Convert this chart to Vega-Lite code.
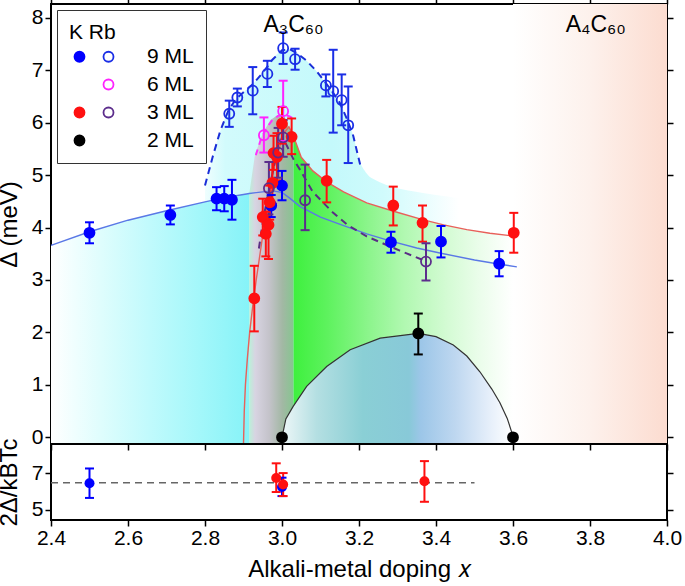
{
  "$schema": "https://vega.github.io/schema/vega-lite/v6.json",
  "padding": {"left": -4, "top": -4, "right": 16, "bottom": 0},
  "autosize": {"type": "pad"},
  "spacing": 0,
  "bounds": "flush",
  "resolve": {"scale": {"color": "independent", "fill": "independent", "stroke": "independent"}, "legend": {"color": "independent", "fill": "independent", "stroke": "independent"}},
  "datasets": {
    "salmon": [{"x": 3.6, "x2": 4.0}],
    "env": [
      {"x": 2.80, "y": 4.80}, {"x": 2.82, "y": 5.35}, {"x": 2.84, "y": 5.85}, {"x": 2.86, "y": 6.22}, {"x": 2.88, "y": 6.45},
      {"x": 2.90, "y": 6.58}, {"x": 2.925, "y": 6.74}, {"x": 2.95, "y": 6.95}, {"x": 2.975, "y": 7.2}, {"x": 3.0, "y": 7.38},
      {"x": 3.02, "y": 7.40}, {"x": 3.04, "y": 7.32}, {"x": 3.064, "y": 7.18}, {"x": 3.09, "y": 6.98}, {"x": 3.107, "y": 6.82},
      {"x": 3.13, "y": 6.6}, {"x": 3.15, "y": 6.38}, {"x": 3.17, "y": 6.05}, {"x": 3.185, "y": 5.75}, {"x": 3.2, "y": 5.3},
      {"x": 3.22, "y": 5.03}, {"x": 3.25, "y": 4.88}, {"x": 3.29, "y": 4.77}, {"x": 3.34, "y": 4.69}, {"x": 3.40, "y": 4.62}, {"x": 3.46, "y": 4.56}
    ],
    "rbDome": [
      {"x": 2.80, "y": 4.80}, {"x": 2.82, "y": 5.35}, {"x": 2.84, "y": 5.85}, {"x": 2.86, "y": 6.22}, {"x": 2.88, "y": 6.45},
      {"x": 2.90, "y": 6.58}, {"x": 2.925, "y": 6.74}, {"x": 2.95, "y": 6.95}, {"x": 2.975, "y": 7.2}, {"x": 3.0, "y": 7.38},
      {"x": 3.02, "y": 7.40}, {"x": 3.04, "y": 7.32}, {"x": 3.064, "y": 7.18}, {"x": 3.09, "y": 6.98}, {"x": 3.107, "y": 6.82},
      {"x": 3.13, "y": 6.6}, {"x": 3.15, "y": 6.38}, {"x": 3.17, "y": 6.05}, {"x": 3.185, "y": 5.75}, {"x": 3.203, "y": 5.2}
    ],
    "blueFit": [
      {"x": 2.4, "y": 3.66}, {"x": 2.5, "y": 3.92}, {"x": 2.6, "y": 4.14}, {"x": 2.7, "y": 4.32}, {"x": 2.8, "y": 4.49},
      {"x": 2.85, "y": 4.57}, {"x": 2.9, "y": 4.63}, {"x": 2.915, "y": 4.65}, {"x": 2.95, "y": 4.68}, {"x": 2.975, "y": 4.70},
      {"x": 3.0, "y": 4.67}, {"x": 3.02, "y": 4.56}, {"x": 3.047, "y": 4.40}, {"x": 3.1, "y": 4.20}, {"x": 3.151, "y": 4.06},
      {"x": 3.22, "y": 3.88}, {"x": 3.283, "y": 3.74}, {"x": 3.35, "y": 3.61}, {"x": 3.413, "y": 3.51}, {"x": 3.5, "y": 3.38},
      {"x": 3.566, "y": 3.30}, {"x": 3.61, "y": 3.25}
    ],
    "redFit": [
      {"x": 2.900, "y": -0.128}, {"x": 2.902, "y": 0.5}, {"x": 2.905, "y": 1.0}, {"x": 2.910, "y": 1.5}, {"x": 2.916, "y": 2.0},
      {"x": 2.924, "y": 2.5}, {"x": 2.933, "y": 3.0}, {"x": 2.943, "y": 3.5}, {"x": 2.953, "y": 4.0}, {"x": 2.963, "y": 4.5},
      {"x": 2.975, "y": 5.0}, {"x": 2.99, "y": 5.45}, {"x": 3.005, "y": 5.8}, {"x": 3.018, "y": 5.92}, {"x": 3.03, "y": 5.74},
      {"x": 3.05, "y": 5.34}, {"x": 3.08, "y": 5.08}, {"x": 3.116, "y": 4.87}, {"x": 3.16, "y": 4.68}, {"x": 3.22, "y": 4.47},
      {"x": 3.29, "y": 4.31}, {"x": 3.365, "y": 4.15}, {"x": 3.42, "y": 4.05}, {"x": 3.48, "y": 3.96}, {"x": 3.54, "y": 3.89},
      {"x": 3.6, "y": 3.84}
    ],
    "band": [
      {"x": 2.915, "y": 4.65}, {"x": 2.93, "y": 5.4}, {"x": 2.95, "y": 5.8}, {"x": 2.97, "y": 6.05}, {"x": 2.99, "y": 6.15},
      {"x": 3.005, "y": 6.15}, {"x": 3.015, "y": 5.95}, {"x": 3.03, "y": 5.74}
    ],
    "rb6": [
      {"x": 2.932, "y": 5.38}, {"x": 2.945, "y": 5.68}, {"x": 2.96, "y": 5.9}, {"x": 2.975, "y": 6.05}, {"x": 2.99, "y": 6.13},
      {"x": 3.005, "y": 6.15}, {"x": 3.02, "y": 6.12}, {"x": 3.032, "y": 6.07}
    ],
    "rb3": [
      {"x": 2.94, "y": 3.6}, {"x": 2.95, "y": 4.1}, {"x": 2.96, "y": 4.5}, {"x": 2.97, "y": 4.85}, {"x": 2.98, "y": 5.2},
      {"x": 2.99, "y": 5.5}, {"x": 3.0, "y": 5.72}, {"x": 3.01, "y": 5.6}, {"x": 3.03, "y": 5.3}, {"x": 3.047, "y": 5.1},
      {"x": 3.08, "y": 4.68}, {"x": 3.133, "y": 4.28}, {"x": 3.17, "y": 4.05}, {"x": 3.22, "y": 3.83}, {"x": 3.306, "y": 3.56},
      {"x": 3.37, "y": 3.37}
    ],
    "twoML": [
      {"x": 3.0, "y": 0}, {"x": 3.01, "y": 0.35}, {"x": 3.029, "y": 0.59}, {"x": 3.064, "y": 0.97}, {"x": 3.116, "y": 1.35},
      {"x": 3.177, "y": 1.67}, {"x": 3.255, "y": 1.89}, {"x": 3.354, "y": 1.98}, {"x": 3.40, "y": 1.92}, {"x": 3.445, "y": 1.76},
      {"x": 3.48, "y": 1.55}, {"x": 3.514, "y": 1.25}, {"x": 3.545, "y": 0.92}, {"x": 3.566, "y": 0.66}, {"x": 3.585, "y": 0.36},
      {"x": 3.597, "y": 0.09}, {"x": 3.6, "y": 0}
    ],
    "points": [
      {"s": "K9", "x": 2.50, "y": 3.90, "lo": 3.70, "hi": 4.10},
      {"s": "K9", "x": 2.71, "y": 4.24, "lo": 4.06, "hi": 4.42},
      {"s": "K9", "x": 2.83, "y": 4.55, "lo": 4.33, "hi": 4.77},
      {"s": "K9", "x": 2.85, "y": 4.55, "lo": 4.31, "hi": 4.79},
      {"s": "K9", "x": 2.87, "y": 4.53, "lo": 4.15, "hi": 4.91},
      {"s": "K9", "x": 2.972, "y": 4.42, "lo": 4.20, "hi": 4.62},
      {"s": "K9", "x": 3.00, "y": 4.80, "lo": 4.52, "hi": 5.08},
      {"s": "K9", "x": 3.283, "y": 3.72, "lo": 3.52, "hi": 3.92},
      {"s": "K9", "x": 3.413, "y": 3.73, "lo": 3.43, "hi": 4.03},
      {"s": "K9", "x": 3.564, "y": 3.31, "lo": 3.07, "hi": 3.55},
      {"s": "Rb9", "x": 2.863, "y": 6.17, "lo": 5.92, "hi": 6.42},
      {"s": "Rb9", "x": 2.884, "y": 6.48, "lo": 6.31, "hi": 6.65},
      {"s": "Rb9", "x": 2.924, "y": 6.61, "lo": 6.16, "hi": 7.06},
      {"s": "Rb9", "x": 2.962, "y": 6.93, "lo": 6.68, "hi": 7.18},
      {"s": "Rb9", "x": 3.003, "y": 7.42, "lo": 7.12, "hi": 7.72},
      {"s": "Rb9", "x": 3.034, "y": 7.21, "lo": 7.01, "hi": 7.41},
      {"s": "Rb9", "x": 3.114, "y": 6.71, "lo": 6.50, "hi": 6.92},
      {"s": "Rb9", "x": 3.133, "y": 6.60, "lo": 5.81, "hi": 7.39},
      {"s": "Rb9", "x": 3.155, "y": 6.43, "lo": 5.95, "hi": 6.92},
      {"s": "Rb9", "x": 3.172, "y": 5.95, "lo": 5.23, "hi": 6.69},
      {"s": "Rb6", "x": 2.953, "y": 5.76, "lo": 5.43, "hi": 6.10},
      {"s": "Rb6", "x": 3.003, "y": 6.22, "lo": 5.65, "hi": 6.80},
      {"s": "K3", "x": 2.928, "y": 2.65, "lo": 2.02, "hi": 3.27},
      {"s": "K3", "x": 2.950, "y": 4.20, "lo": 3.85, "hi": 4.55},
      {"s": "K3", "x": 2.958, "y": 3.88, "lo": 3.45, "hi": 4.30},
      {"s": "K3", "x": 2.965, "y": 4.05, "lo": 3.40, "hi": 4.50},
      {"s": "K3", "x": 2.968, "y": 4.48, "lo": 4.15, "hi": 4.80},
      {"s": "K3", "x": 2.975, "y": 4.85, "lo": 4.45, "hi": 5.25},
      {"s": "K3", "x": 2.978, "y": 5.42, "lo": 5.10, "hi": 5.75},
      {"s": "K3", "x": 2.987, "y": 5.35, "lo": 4.90, "hi": 5.80},
      {"s": "K3", "x": 3.000, "y": 5.98, "lo": 5.60, "hi": 6.30},
      {"s": "K3", "x": 3.025, "y": 5.73, "lo": 5.40, "hi": 6.08},
      {"s": "K3", "x": 3.116, "y": 4.89, "lo": 4.48, "hi": 5.29},
      {"s": "K3", "x": 3.289, "y": 4.42, "lo": 4.04, "hi": 4.78},
      {"s": "K3", "x": 3.365, "y": 4.09, "lo": 3.73, "hi": 4.42},
      {"s": "K3", "x": 3.602, "y": 3.90, "lo": 3.52, "hi": 4.28},
      {"s": "Rb3", "x": 2.966, "y": 4.75, "lo": 4.25, "hi": 5.25},
      {"s": "Rb3", "x": 2.990, "y": 5.43, "lo": 4.95, "hi": 5.90},
      {"s": "Rb3", "x": 3.003, "y": 5.72, "lo": 5.35, "hi": 6.05},
      {"s": "Rb3", "x": 3.060, "y": 4.52, "lo": 3.95, "hi": 5.20},
      {"s": "Rb3", "x": 3.374, "y": 3.35, "lo": 2.99, "hi": 3.70},
      {"s": "K2", "x": 3.0, "y": 0.0},
      {"s": "K2", "x": 3.354, "y": 1.98, "lo": 1.58, "hi": 2.36},
      {"s": "K2", "x": 3.6, "y": 0.0}
    ],
    "ratio": [
      {"s": "K9", "x": 2.50, "y": 6.45, "lo": 5.65, "hi": 7.25},
      {"s": "K9", "x": 3.0, "y": 6.24, "lo": 5.75, "hi": 6.75},
      {"s": "K3", "x": 2.985, "y": 6.73, "lo": 5.97, "hi": 7.53},
      {"s": "K3", "x": 3.003, "y": 6.38, "lo": 5.75, "hi": 7.0},
      {"s": "K3", "x": 3.37, "y": 6.56, "lo": 5.44, "hi": 7.65}
    ],
    "ratioRef": [{"x": 2.4, "y": 6.47}, {"x": 3.5, "y": 6.47}],
    "labels": [{"x": 3.03, "y": 7.87, "t": "A₃C₆₀"}, {"x": 3.815, "y": 7.87, "t": "A₄C₆₀"}]
  },
  "vconcat": [
    {
      "width": 616,
      "height": 440,
      "resolve": {"axis": {"x": "independent", "y": "independent"}},
      "encoding": {
        "x": {"field": "x", "type": "quantitative", "scale": {"domain": [2.4, 4.0], "nice": false, "zero": false}, "axis": null}
      },
      "layer": [
        {
          "data": {"name": "salmon"},
          "mark": {"type": "rect", "color": {"gradient": "linear", "x1": 0, "x2": 1, "y1": 0, "y2": 0, "stops": [{"offset": 0, "color": "#ffffff"}, {"offset": 0.5, "color": "#fdf1ec"}, {"offset": 1, "color": "#fcdcd0"}]}},
          "encoding": {
            "x": {"field": "x", "type": "quantitative", "scale": {"domain": [2.4, 4.0], "nice": false, "zero": false}, "axis": {"orient": "bottom", "labels": false, "title": null, "values": [2.4, 2.6, 2.8, 3.0, 3.2, 3.4, 3.6, 3.8, 4.0], "minExtent": 0, "maxExtent": 0, "encode": {"ticks": {"update": {"y2": {"value": -6}}}}}},
            "x2": {"field": "x2"}
          }
        },
        {
          "data": {"name": "env"},
          "mark": {"type": "area", "interpolate": "monotone", "color": {"gradient": "linear", "x1": 0, "x2": 1, "y1": 0, "y2": 0, "stops": [{"offset": 0, "color": "#effefe"}, {"offset": 0.08, "color": "#d2fbfc"}, {"offset": 0.5, "color": "#c4f9fb"}, {"offset": 0.7, "color": "#d0fbfc"}, {"offset": 0.85, "color": "#e6fdfe"}, {"offset": 1, "color": "#ffffff"}]}},
          "encoding": {
            "x": {"field": "x", "type": "quantitative", "axis": {"orient": "top", "labels": false, "title": null, "values": [2.4, 2.6, 2.8, 3.0, 3.2, 3.4, 3.6, 3.8, 4.0], "minExtent": 0, "maxExtent": 0, "encode": {"ticks": {"update": {"y2": {"value": 6}}}}}},
            "y": {"field": "y", "type": "quantitative", "scale": {"domain": [-0.128, 8.263], "nice": false, "zero": false}, "axis": {"orient": "left", "values": [0, 1, 2, 3, 4, 5, 6, 7, 8], "title": "Δ (meV)", "titlePadding": 10, "labelPadding": 2, "encode": {"ticks": {"update": {"x2": {"value": 6}}}}}},
            "y2": {"datum": -0.128}
          }
        },
        {
          "data": {"name": "blueFit"},
          "transform": [{"filter": "datum.x <= 2.916"}],
          "mark": {"type": "area", "color": {"gradient": "linear", "x1": 0, "x2": 1, "y1": 0, "y2": 0, "stops": [{"offset": 0, "color": "#ffffff"}, {"offset": 0.25, "color": "#dffdfd"}, {"offset": 0.5, "color": "#c0fafc"}, {"offset": 0.75, "color": "#a3f7fa"}, {"offset": 1, "color": "#86f3f8"}]}},
          "encoding": {
            "y": {"field": "y", "type": "quantitative", "axis": {"orient": "right", "labels": false, "title": null, "values": [0, 1, 2, 3, 4, 5, 6, 7, 8], "minExtent": 0, "maxExtent": 0, "encode": {"ticks": {"update": {"x2": {"value": -6}}}}}},
            "y2": {"datum": -0.128}
          }
        },
        {
          "data": {"name": "band"},
          "mark": {"type": "area", "color": {"gradient": "linear", "x1": 0, "x2": 1, "y1": 0, "y2": 0, "stops": [{"offset": 0, "color": "#baf0d8"}, {"offset": 0.13, "color": "#d8d4e2"}, {"offset": 0.45, "color": "#c4c3ca"}, {"offset": 0.75, "color": "#a2b8a4"}, {"offset": 1, "color": "#86c590"}]}},
          "encoding": {
            "y": {"field": "y", "type": "quantitative", "axis": null},
            "y2": {"datum": -0.128}
          }
        },
        {
          "data": {"name": "redFit"},
          "transform": [{"filter": "datum.x >= 3.03"}],
          "mark": {"type": "area", "color": {"gradient": "linear", "x1": 0, "x2": 1, "y1": 0, "y2": 0, "stops": [{"offset": 0, "color": "#3ef03e"}, {"offset": 0.15, "color": "#5df25d"}, {"offset": 0.35, "color": "#8ef58e"}, {"offset": 0.5, "color": "#b0f8b0"}, {"offset": 0.7, "color": "#d4fbd4"}, {"offset": 0.85, "color": "#ebfdeb"}, {"offset": 1, "color": "#ffffff"}]}},
          "encoding": {
            "y": {"field": "y", "type": "quantitative", "axis": null},
            "y2": {"datum": -0.128}
          }
        },
        {
          "data": {"name": "twoML"},
          "mark": {"type": "area", "color": {"gradient": "linear", "x1": 0, "x2": 1, "y1": 0, "y2": 0, "stops": [{"offset": 0, "color": "#eef7f8"}, {"offset": 0.15, "color": "#b4dfe2"}, {"offset": 0.35, "color": "#8acfd5"}, {"offset": 0.55, "color": "#88c9d8"}, {"offset": 0.6, "color": "#9cc6e8"}, {"offset": 0.75, "color": "#bed7f0"}, {"offset": 0.9, "color": "#e6effa"}, {"offset": 1, "color": "#ffffff"}]}},
          "encoding": {
            "y": {"field": "y", "type": "quantitative", "axis": null},
            "y2": {"datum": -0.128}
          }
        },
        {
          "data": {"name": "blueFit"},
          "mark": {"type": "line", "color": "#5a78e6", "strokeWidth": 1.4},
          "encoding": {"y": {"field": "y", "type": "quantitative", "axis": null}}
        },
        {
          "data": {"name": "redFit"},
          "mark": {"type": "line", "color": "#e8605a", "strokeWidth": 1.4, "clip": true},
          "encoding": {"y": {"field": "y", "type": "quantitative", "axis": null}}
        },
        {
          "data": {"name": "twoML"},
          "mark": {"type": "line", "color": "#333333", "strokeWidth": 1.2},
          "encoding": {"y": {"field": "y", "type": "quantitative", "axis": null}}
        },
        {
          "data": {"name": "rbDome"},
          "mark": {"type": "line", "color": "#1a2ed8", "strokeWidth": 2, "strokeDash": [7, 5]},
          "encoding": {"y": {"field": "y", "type": "quantitative", "axis": null}}
        },
        {
          "data": {"name": "rb6"},
          "mark": {"type": "line", "color": "#ff30ff", "strokeWidth": 2, "strokeDash": [6, 5]},
          "encoding": {"y": {"field": "y", "type": "quantitative", "axis": null}}
        },
        {
          "data": {"name": "rb3"},
          "mark": {"type": "line", "color": "#5a2d85", "strokeWidth": 2, "strokeDash": [7, 5]},
          "encoding": {"y": {"field": "y", "type": "quantitative", "axis": null}}
        },
        {
          "data": {"name": "points"},
          "mark": {"type": "rule", "strokeWidth": 2},
          "encoding": {
            "y": {"field": "lo", "type": "quantitative", "axis": null},
            "y2": {"field": "hi"},
            "color": {"field": "s", "type": "nominal", "scale": {"domain": ["K9", "Rb9", "Rb6", "K3", "Rb3", "K2"], "range": ["#0000ff", "#1a2ee6", "#ff22ff", "#ff1010", "#5c2d8c", "#000000"]}, "legend": null}
          }
        },
        {
          "data": {"name": "points"},
          "mark": {"type": "tick", "orient": "horizontal", "size": 9, "thickness": 2, "opacity": 1},
          "encoding": {
            "y": {"field": "lo", "type": "quantitative", "axis": null},
            "color": {"field": "s", "type": "nominal", "legend": null}
          }
        },
        {
          "data": {"name": "points"},
          "mark": {"type": "tick", "orient": "horizontal", "size": 9, "thickness": 2, "opacity": 1},
          "encoding": {
            "y": {"field": "hi", "type": "quantitative", "axis": null},
            "color": {"field": "s", "type": "nominal", "legend": null}
          }
        },
        {
          "data": {"name": "points"},
          "mark": {"type": "circle", "opacity": 1, "strokeWidth": 1.8},
          "encoding": {
            "y": {"field": "y", "type": "quantitative", "axis": null},
            "size": {"value": 100},
            "fill": {"field": "s", "type": "nominal", "scale": {"domain": ["K9", "K6", "K3", "K2", "Rb9", "Rb6", "Rb3", "Rb2"], "range": ["#0000ff", "transparent", "#ff1010", "#000000", "transparent", "transparent", "transparent", "transparent"]},
              "legend": {"title": "K Rb", "orient": "top-left", "offset": 6, "columns": 2, "labelExpr": "indexof(datum.value, 'Rb') == 0 ? substring(datum.value, 2) + ' ML' : ''", "symbolType": "circle", "symbolSize": 100, "symbolStrokeWidth": 1.8, "labelFontSize": 21, "titleFontSize": 21, "titleFontWeight": "normal", "strokeColor": "#333333", "fillColor": "white", "padding": 12, "rowPadding": 6, "columnPadding": 0, "labelOffset": 8, "titlePadding": 3, "labelColor": "black", "titleColor": "black", "symbolOpacity": 1,
                "encode": {"labels": {"update": {"dx": {"signal": "indexof(datum.value, 'Rb') == 0 ? 20 : 0"}}}}}},
            "stroke": {"field": "s", "type": "nominal", "scale": {"domain": ["K9", "K6", "K3", "K2", "Rb9", "Rb6", "Rb3", "Rb2"], "range": ["#0000ff", "transparent", "#ff1010", "#000000", "#1a2ee6", "#ff22ff", "#5c2d8c", "transparent"]},
              "legend": {"title": "K Rb", "orient": "top-left", "offset": 6, "columns": 2, "labelExpr": "indexof(datum.value, 'Rb') == 0 ? substring(datum.value, 2) + ' ML' : ''", "symbolType": "circle", "symbolSize": 100, "symbolStrokeWidth": 1.8, "labelFontSize": 21, "titleFontSize": 21, "titleFontWeight": "normal", "strokeColor": "#333333", "fillColor": "white", "padding": 12, "rowPadding": 6, "columnPadding": 0, "labelOffset": 8, "titlePadding": 3, "labelColor": "black", "titleColor": "black", "symbolOpacity": 1,
                "encode": {"labels": {"update": {"dx": {"signal": "indexof(datum.value, 'Rb') == 0 ? 20 : 0"}}}}}}
          }
        },
        {
          "data": {"name": "labels"},
          "mark": {"type": "text", "fontSize": 23, "font": "Liberation Sans", "color": "black", "align": "center", "baseline": "middle"},
          "encoding": {
            "y": {"field": "y", "type": "quantitative", "axis": null},
            "text": {"field": "t"}
          }
        }
      ]
    },
    {
      "width": 616,
      "height": 76,
      "resolve": {"axis": {"y": "independent"}},
      "encoding": {
        "x": {"field": "x", "type": "quantitative", "scale": {"domain": [2.4, 4.0], "nice": false, "zero": false}, "axis": {"orient": "bottom", "values": [2.4, 2.6, 2.8, 3.0, 3.2, 3.4, 3.6, 3.8, 4.0], "format": ".1f", "title": "Alkali-metal doping 𝑥", "labelPadding": 1, "titlePadding": 9, "encode": {"ticks": {"update": {"y2": {"value": -6}}}}}}
      },
      "layer": [
        {
          "data": {"name": "ratioRef"},
          "mark": {"type": "line", "color": "#666666", "strokeWidth": 1.5, "strokeDash": [7, 5]},
          "encoding": {
            "y": {"field": "y", "type": "quantitative", "scale": {"domain": [4.45, 8.58], "nice": false, "zero": false}, "axis": {"orient": "left", "values": [5, 7], "title": "2Δ/kBTc", "titlePadding": 10, "labelPadding": 2, "encode": {"ticks": {"update": {"x2": {"value": 6}}}}}}
          }
        },
        {
          "data": {"name": "ratio"},
          "mark": {"type": "rule", "strokeWidth": 2},
          "encoding": {
            "y": {"field": "lo", "type": "quantitative", "axis": {"orient": "right", "values": [5, 7], "labels": false, "title": null, "minExtent": 0, "maxExtent": 0, "encode": {"ticks": {"update": {"x2": {"value": -6}}}}}},
            "y2": {"field": "hi"},
            "color": {"field": "s", "type": "nominal", "scale": {"domain": ["K9", "K3"], "range": ["#0000ff", "#ff1010"]}, "legend": null}
          }
        },
        {
          "data": {"name": "ratio"},
          "mark": {"type": "tick", "orient": "horizontal", "size": 9, "thickness": 2, "opacity": 1},
          "encoding": {
            "y": {"field": "lo", "type": "quantitative", "axis": null},
            "color": {"field": "s", "type": "nominal", "legend": null}
          }
        },
        {
          "data": {"name": "ratio"},
          "mark": {"type": "tick", "orient": "horizontal", "size": 9, "thickness": 2, "opacity": 1},
          "encoding": {
            "y": {"field": "hi", "type": "quantitative", "axis": null},
            "color": {"field": "s", "type": "nominal", "legend": null}
          }
        },
        {
          "data": {"name": "ratio"},
          "mark": {"type": "circle", "opacity": 1, "size": 100},
          "encoding": {
            "y": {"field": "y", "type": "quantitative", "axis": null},
            "color": {"field": "s", "type": "nominal", "legend": null}
          }
        }
      ]
    }
  ],
  "config": {
    "font": "Liberation Sans",
    "view": {"stroke": "black", "strokeWidth": 2},
    "axis": {"grid": false, "domain": false, "tickColor": "black", "tickWidth": 1.5, "tickSize": 6, "labelFlush": false, "labelFontSize": 21, "labelColor": "black", "titleFontSize": 24, "titleFontWeight": "normal", "titleColor": "black", "labelFont": "Liberation Sans", "titleFont": "Liberation Sans"}
  }
}
